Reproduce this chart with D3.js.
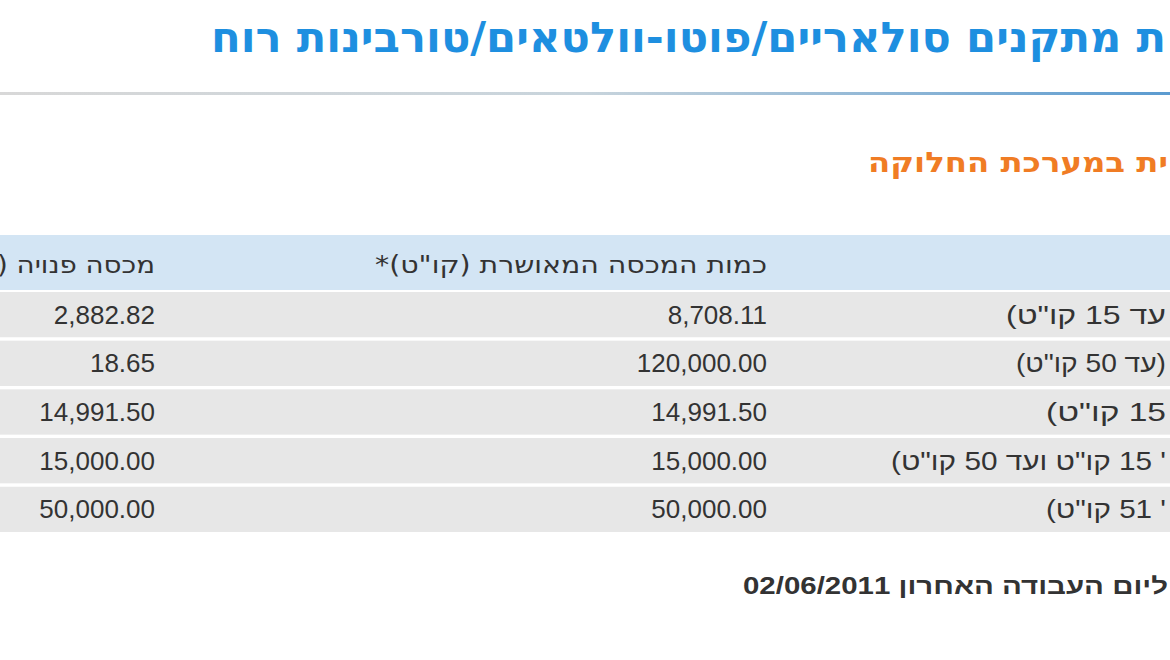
<!DOCTYPE html>
<html><head><meta charset="utf-8">
<script src="https://cdn.jsdelivr.net/npm/d3@7"></script>
<style>body{margin:0;background:#fff}svg{display:block;font-family:"Liberation Sans",Arial,sans-serif}</style>
</head><body>
<svg id="c" width="1170" height="660"></svg>
<script>
const title = "ת מתקנים סולאריים/פוטו-וולטאים/טורבינות רוח";
const subtitle = "ית במערכת החלוקה";
const headers = ["", "כמות המכסה המאושרת (קו\"ט)*", "מכסה פנויה ("];
const rowLabels = [
  "עד 15 קו\"ט)",
  "(עד 50 קו\"ט)",
  "15 קו\"ט)",
  "' 15 קו\"ט ועד 50 קו\"ט)",
  "' 51 קו\"ט)"
];
const approved = [8708.11, 120000, 14991.5, 15000, 50000];
const available = [2882.82, 18.65, 14991.5, 15000, 50000];
const footer = "ליום העבודה האחרון 02/06/2011";

const svg = d3.select("#c");
const fmt = d3.format(",.2f");
const cond = "'DejaVu Sans Condensed','Liberation Sans Narrow',sans-serif";

const defs = svg.append("defs");
const g = defs.append("linearGradient").attr("id", "ln");
g.append("stop").attr("offset", "0").attr("stop-color", "#d8d8d8");
g.append("stop").attr("offset", "0.5").attr("stop-color", "#c8d4dc");
g.append("stop").attr("offset", "1").attr("stop-color", "#5b9bd0");

svg.append("text").attr("x", 1166).attr("y", 52)
  .attr("direction", "rtl").attr("text-anchor", "start")
  .attr("font-size", 42).attr("font-weight", "bold").attr("fill", "#1e8fe0")
  .attr("font-family", cond)
  .attr("textLength", 955).attr("lengthAdjust", "spacingAndGlyphs")
  .text(title);
svg.append("rect").attr("x", 0).attr("y", 92).attr("width", 1170).attr("height", 3).attr("fill", "url(#ln)");

svg.append("text").attr("x", 1168).attr("y", 172)
  .attr("direction", "rtl").attr("text-anchor", "start")
  .attr("font-size", 28).attr("font-weight", "bold").attr("fill", "#f07c24")
  .attr("font-family", cond)
  .attr("textLength", 300).attr("lengthAdjust", "spacingAndGlyphs")
  .text(subtitle);

// header band
svg.append("rect").attr("x", 0).attr("y", 235).attr("width", 1170).attr("height", 55).attr("fill", "#d3e5f4");
const colX = [1166, 767, 155];
const headLen = [0, 392, 158];
headers.forEach((h, i) => {
  if (!h) return;
  svg.append("text").attr("x", colX[i]).attr("y", 273)
    .attr("direction", "rtl").attr("text-anchor", "start")
    .attr("font-size", 24).attr("fill", "#333")
    .attr("font-family", cond)
    .attr("textLength", headLen[i]).attr("lengthAdjust", "spacingAndGlyphs")
    .text(h);
});

const labelLen = [160, 150, 120, 275, 120];
const y = d3.scaleBand().domain(d3.range(rowLabels.length)).range([292, 532]).paddingInner(0.07);
const rows = svg.selectAll("g.row").data(rowLabels.map((l, i) => ({ l, a: approved[i], v: available[i], len: labelLen[i] })))
  .join("g").attr("class", "row").attr("transform", (d, i) => `translate(0,${y(i)})`);
rows.append("rect").attr("width", 1170).attr("height", y.bandwidth()).attr("fill", "#e7e7e7");
const ty = y.bandwidth() / 2 + 9;
rows.append("text").attr("x", 1166).attr("y", ty).attr("direction", "rtl").attr("text-anchor", "start")
  .attr("font-size", 25).attr("fill", "#333")
  .attr("textLength", d => d.len).attr("lengthAdjust", "spacingAndGlyphs").text(d => d.l);
rows.append("text").attr("x", 767).attr("y", ty).attr("text-anchor", "end")
  .attr("font-size", 26).attr("fill", "#333").text(d => fmt(d.a));
rows.append("text").attr("x", 155).attr("y", ty).attr("text-anchor", "end")
  .attr("font-size", 26).attr("fill", "#333").text(d => fmt(d.v));

svg.append("text").attr("x", 1168).attr("y", 594).attr("direction", "rtl").attr("text-anchor", "start")
  .attr("font-size", 23).attr("font-weight", "bold").attr("fill", "#333")
  .attr("textLength", 425).attr("lengthAdjust", "spacingAndGlyphs").text(footer);
</script>
</body></html>
